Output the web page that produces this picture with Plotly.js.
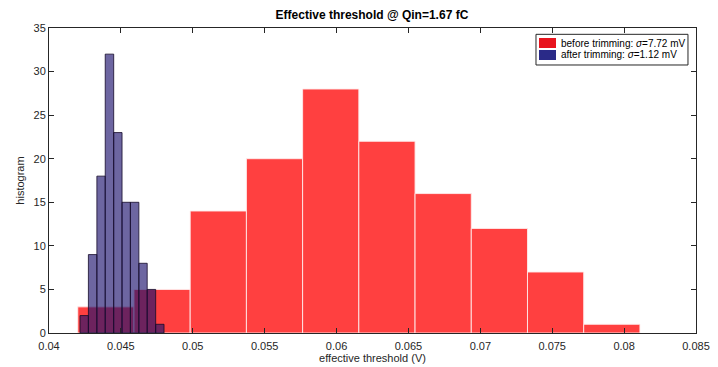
<!DOCTYPE html>
<html>
<head>
<meta charset="utf-8">
<script src="https://cdn.plot.ly/plotly-3.0.1.min.js"></script>
<style>html,body{margin:0;padding:0;background:#fff;}#chart{width:718px;height:367px;}</style>
</head>
<body>
<div id="chart"></div>
<script>
// Bin edges (V)
var redEdges = [0.0420, 0.04591, 0.04982, 0.05373, 0.05764, 0.06155, 0.06546, 0.06937, 0.07328, 0.07719, 0.0811];
var redCounts = [3, 5, 14, 20, 28, 22, 16, 12, 7, 1];
var blueEdges = [0.04216, 0.04274, 0.04333, 0.04391, 0.04450, 0.04508, 0.04566, 0.04625, 0.04683, 0.04742, 0.04800];
var blueCounts = [2, 9, 18, 32, 23, 15, 15, 8, 5, 1];
var redName = 'before trimming: <i>σ</i>=7.72 mV';
var blueName = 'after trimming: <i>σ</i>=1.12 mV';
var xTicks = [0.04, 0.045, 0.05, 0.055, 0.06, 0.065, 0.07, 0.075, 0.08, 0.085];
var xTickText = ['0.04', '0.045', '0.05', '0.055', '0.06', '0.065', '0.07', '0.075', '0.08', '0.085'];
var yTicks = [0, 5, 10, 15, 20, 25, 30, 35];

function centers(e){var c=[];for(var i=0;i<e.length-1;i++)c.push((e[i]+e[i+1])/2);return c;}
function widths(e){var w=[];for(var i=0;i<e.length-1;i++)w.push(e[i+1]-e[i]);return w;}

var redFill = 'rgba(255,0,0,0.75)';
var blueFill = 'rgba(30,20,110,0.65)';

var traces = [
  {type:'bar', x:centers(redEdges), y:redCounts, width:widths(redEdges), name:redName,
   marker:{color:redFill, line:{color:'rgba(255,235,235,0.9)', width:1}}},
  {type:'bar', x:centers(blueEdges), y:blueCounts, width:widths(blueEdges), name:blueName,
   marker:{color:blueFill, line:{color:'rgba(20,10,40,0.8)', width:1}}}
];

// custom legend (paper coordinates)
var legFont = {family:'Liberation Sans, Arial, sans-serif', size:10, color:'#000'};
var shapes = [
  {type:'rect', xref:'paper', yref:'paper', x0:0.7527, x1:0.9876, y0:0.8787, y1:0.9793,
   line:{color:'#262626', width:1}, fillcolor:'#fff', layer:'above'},
  {type:'rect', xref:'paper', yref:'paper', x0:0.7573, x1:0.7836, y0:0.9344, y1:0.9672,
   line:{width:0}, fillcolor:'#e8141e', layer:'above'},
  {type:'rect', xref:'paper', yref:'paper', x0:0.7573, x1:0.7836, y0:0.8951, y1:0.9279,
   line:{width:0}, fillcolor:'#2a2a88', layer:'above'}
];
var annotations = [
  {xref:'paper', yref:'paper', x:0.7883, y:0.9508, xanchor:'left', yanchor:'middle', text:redName, showarrow:false, font:legFont},
  {xref:'paper', yref:'paper', x:0.7883, y:0.9115, xanchor:'left', yanchor:'middle', text:blueName, showarrow:false, font:legFont}
];

var font = {family:'Liberation Sans, Arial, sans-serif', size:11, color:'#262626'};
var layout = {
  width:718, height:367,
  margin:{l:49, r:22, t:28, b:34},
  paper_bgcolor:'#fff', plot_bgcolor:'#fff',
  barmode:'overlay',
  font:font,
  showlegend:false,
  shapes:shapes,
  annotations:annotations,
  title:{text:'<b>Effective threshold @ Qin=1.67 fC</b>', x:0.518, xref:'container', y:0.96, yref:'container', yanchor:'middle',
         font:{family:'Liberation Sans, Arial, sans-serif', size:12, color:'#000'}},
  xaxis:{range:[0.04,0.085], tickvals:xTicks, ticktext:xTickText, ticks:'inside', ticklen:5, tickcolor:'#262626',
         ticklabelstandoff:3,
         showline:true, linecolor:'#262626', linewidth:1, mirror:'ticks', showgrid:false, zeroline:false,
         title:{text:'effective threshold (V)', standoff:1, font:{size:11, color:'#262626'}}},
  yaxis:{range:[0,35], tickvals:yTicks, ticks:'inside', ticklen:5, tickcolor:'#262626',
         showline:true, linecolor:'#262626', linewidth:1, mirror:'ticks', showgrid:false, zeroline:false,
         title:{text:'histogram', standoff:6, font:{size:11, color:'#262626'}}}
};
Plotly.newPlot('chart', traces, layout, {displayModeBar:false, staticPlot:true});
</script>
</body>
</html>
